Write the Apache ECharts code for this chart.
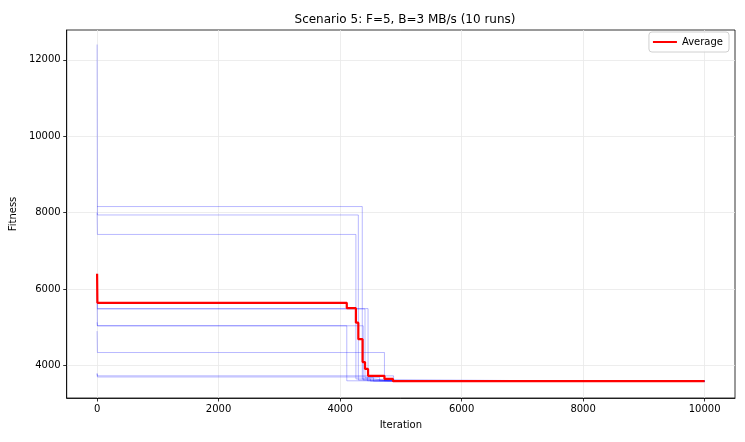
<!DOCTYPE html>
<html>
<head>
<meta charset="utf-8">
<script src="https://cdn.jsdelivr.net/npm/echarts@6/dist/echarts.min.js"></script>
<style>html,body{margin:0;padding:0;background:#fff}#c{width:745px;height:442px}</style>
</head>
<body>
<div id="c"></div>
<script>
const iterTicks = [0, 2000, 4000, 6000, 8000, 10000];
const fitnessTicks = [4000, 6000, 8000, 10000, 12000];

// step points: [iteration, best fitness from here on]
const run1 = [[0,12400],[5,7940],[4300,3620],[4620,3590],[10000,3590]];
const run2 = [[0,8160],[4365,3650],[4560,3600],[4800,3590],[10000,3590]];
const run3 = [[0,8000],[5,7430],[4260,3650],[4500,3590],[10000,3590]];
const run4 = [[0,6400],[5,5490],[4460,3690],[4650,3600],[4900,3590],[10000,3590]];
const run5 = [[0,5480],[4410,3680],[4550,3590],[10000,3590]];
const run6 = [[0,5900],[5,5040],[4110,3600],[4700,3590],[10000,3590]];
const run7 = [[0,5130],[5,5040],[4380,3620],[4600,3590],[10000,3590]];
const run8 = [[0,4900],[5,4340],[4730,3600],[4870,3590],[10000,3590]];
const run9 = [[0,3800],[5,3730],[4880,3590],[10000,3590]];
const run10 = [[0,3780],[5,3700],[4450,3600],[4750,3590],[10000,3590]];
const average = [[0,6400],[5,5640],[4110,5500],[4260,5120],[4300,4690],[4370,4090],[4410,3910],[4460,3730],[4730,3650],[4870,3590],[10000,3590]];

const runs = [run1, run2, run3, run4, run5, run6, run7, run8, run9, run10];
const FONT = 'DejaVu Sans';

const series = runs.map((r, i) => ({
  name: 'Run ' + (i + 1),
  type: 'line',
  step: 'end',
  data: r,
  symbol: 'none',
  lineStyle: { color: 'rgba(0,0,255,0.28)', width: 1 },
  itemStyle: { color: 'rgba(0,0,255,0.28)' },
  z: 2,
  silent: true
}));
series.push({
  name: 'Average',
  type: 'line',
  step: 'end',
  data: average,
  symbol: 'none',
  lineStyle: { color: '#ff0000', width: 2.2 },
  itemStyle: { color: '#ff0000' },
  z: 5
});

const plain = v => String(v);

const chart = echarts.init(document.getElementById('c'), null, { renderer: 'canvas' });
chart.setOption({
  animation: false,
  backgroundColor: '#fff',
  title: {
    text: 'Scenario 5: F=5, B=3 MB/s (10 runs)',
    left: 400, top: 9, textAlign: 'center',
    textStyle: { fontFamily: FONT, fontSize: 12, fontWeight: 'normal', color: '#000' }
  },
  legend: {
    data: ['Average'],
    right: 16, top: 32,
    orient: 'vertical',
    borderColor: '#d0d0d0', borderWidth: 1, borderRadius: 3,
    padding: [5, 6, 5, 4],
    itemWidth: 24, itemHeight: 2, itemGap: 4,
    icon: 'rect',
    backgroundColor: 'rgba(255,255,255,0.8)',
    textStyle: { fontFamily: FONT, fontSize: 10, color: '#000' }
  },
  grid: {
    left: 66, right: 10, top: 30, bottom: 44,
    show: true, borderColor: '#000', borderWidth: 0.8, containLabel: false
  },
  xAxis: {
    type: 'value', min: -500, max: 10500,
    name: 'Iteration', nameLocation: 'middle', nameGap: 22,
    nameTextStyle: { fontFamily: FONT, fontSize: 10, color: '#000' },
    axisLine: { show: true, onZero: false, lineStyle: { color: '#000', width: 0.8 } },
    axisTick: { show: true, length: 3.5, lineStyle: { color: '#000', width: 0.8 }, customValues: iterTicks },
    axisLabel: { fontFamily: FONT, fontSize: 10, color: '#000', margin: 6, customValues: iterTicks, formatter: plain },
    splitLine: { show: true, lineStyle: { color: '#e8e8e8', width: 0.8 } }
  },
  yAxis: {
    type: 'value', min: 3150, max: 12780,
    name: 'Fitness', nameLocation: 'middle', nameGap: 45,
    nameTextStyle: { fontFamily: FONT, fontSize: 10, color: '#000' },
    axisLine: { show: true, onZero: false, lineStyle: { color: '#000', width: 0.8 } },
    axisTick: { show: true, length: 3.5, lineStyle: { color: '#000', width: 0.8 }, customValues: fitnessTicks },
    axisLabel: { fontFamily: FONT, fontSize: 10, color: '#000', margin: 6, customValues: fitnessTicks, formatter: plain },
    splitLine: { show: true, lineStyle: { color: '#e8e8e8', width: 0.8 } }
  },
  series: series
});
</script>
</body>
</html>
